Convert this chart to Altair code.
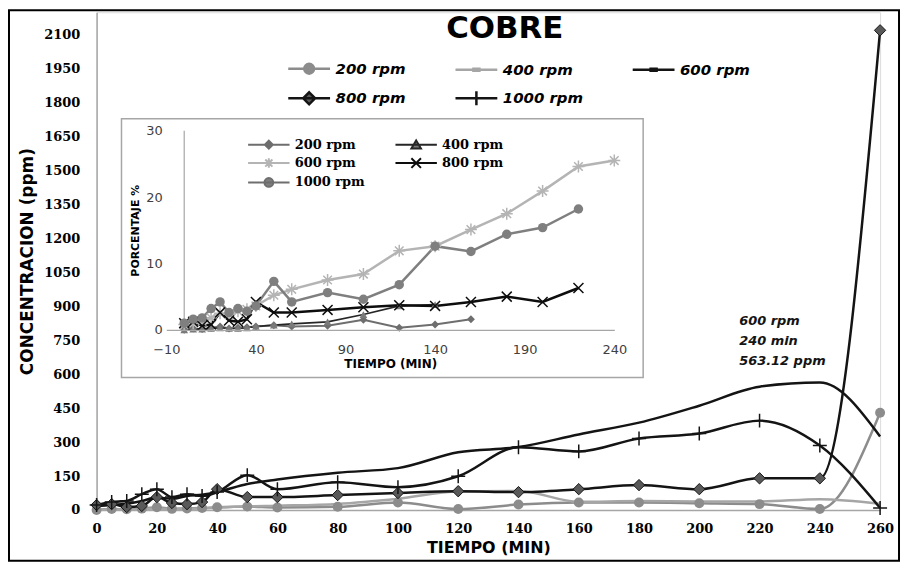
import altair as alt
import pandas as pd

# ---------------- data ----------------
tiempo = [0, 5, 10, 15, 20, 25, 30, 35, 40, 50, 60, 80, 100, 120, 140, 160, 180, 200, 220, 240, 260]
series = ["200 rpm", "400 rpm", "600 rpm", "800 rpm", "1000 rpm"]

# main chart: concentration (ppm)
ppm_200 = [0, 4, 3, 6, 12, 5, 7, 9, 12, 15, 11, 14, 33, 4, 24, 33, 33, 30, 26, 4, 430]
ppm_400 = [0, 2, 2, 4, 7, 4, 5, 7, 10, 16, 19, 27, 50, 82, 84, 36, 40, 38, 38, 48, 28]
ppm_600 = [18, 22, 28, 40, 55, 50, 62, 68, 80, 115, 135, 165, 185, 255, 278, 334, 386, 461, 545, 563.12, 325]
ppm_800 = [22, 26, 13, 18, 57, 31, 26, 35, 92, 57, 57, 66, 75, 83, 79, 92, 110, 92, 140, 140, 2120]
ppm_1000 = [22, 35, 40, 70, 92, 57, 70, 62, 79, 154, 92, 123, 101, 149, 277, 259, 316, 338, 395, 285, 9]

# inset: percentage
pct_200 = [0, 0.2, 0.1, 0.3, 0.5, 0.2, 0.3, 0.4, 0.5, 0.7, 0.5, 0.6, 1.5, 0.3, 0.8, 1.6]
pct_400 = [0, 0.1, 0.1, 0.2, 0.3, 0.2, 0.2, 0.3, 0.5, 0.7, 0.9, 1.2, 2.3, 3.6, 3.8]
pct_600 = [0.8, 1.0, 1.3, 1.8, 2.5, 2.3, 2.8, 3.1, 3.6, 5.2, 6.1, 7.5, 8.4, 11.9, 12.6, 15.1, 17.5, 20.9, 24.6, 25.5]
pct_800 = [1.0, 1.2, 0.6, 0.8, 2.6, 1.4, 1.2, 1.6, 4.2, 2.6, 2.6, 3.0, 3.4, 3.7, 3.6, 4.2, 5.0, 4.2, 6.3]
pct_1000 = [1.0, 1.6, 1.8, 3.2, 4.2, 2.6, 3.2, 2.8, 3.6, 7.3, 4.2, 5.6, 4.6, 6.8, 12.6, 11.8, 14.4, 15.4, 18.2]

annot_t = [240]
annot_v = [563.12]
annot_txt = ["600 rpm\n240 min\n563.12 ppm"]

main_ticks_x = list(range(0, 261, 20))
main_ticks_y = list(range(0, 2101, 150))
inset_ticks_x = [-10, 40, 90, 140, 190, 240]
inset_ticks_y = [0, 10, 20, 30]

SANS = "DejaVu Sans"
SERIF = "DejaVu Serif"


def to_long(values, name):
    rows = []
    for s, vals in zip(series, values):
        for t, v in zip(tiempo, vals):
            rows.append({"serie": s, "t": t, name: v})
    return pd.DataFrame(rows)


main_df = to_long([ppm_200, ppm_400, ppm_600, ppm_800, ppm_1000], "ppm")
inset_df = to_long([pct_200, pct_400, pct_600, pct_800, pct_1000], "pct")
ann_df = pd.DataFrame({"t": annot_t, "ppm": annot_v, "txt": annot_txt})
one_df = pd.DataFrame({"k": [0]})

# ---------------- main chart ----------------
x_main = alt.X(
    "t:Q",
    scale=alt.Scale(domain=[0, 260], nice=False, zero=False),
    axis=alt.Axis(values=main_ticks_x, format="d", title="TIEMPO (MIN)", grid=False, ticks=False,
                  domainColor="#a6a6a6", domainWidth=1.5, labelFont=SERIF, labelFontWeight="bold",
                  labelFontSize=13, labelColor="#000", labelPadding=13, labelOverlap=False,
                  labelFlush=False,
                  titleFont=SANS, titleFontSize=16, titleFontWeight="bold", titleColor="#000",
                  titlePadding=4),
)
y_main = alt.Y(
    "ppm:Q",
    scale=alt.Scale(domain=[0, 2200], nice=False),
    axis=alt.Axis(values=main_ticks_y, format="d", title="CONCENTRACION (ppm)", grid=False,
                  ticks=False, domainColor="#a6a6a6", domainWidth=1.5, labelFont=SERIF,
                  labelFontWeight="bold", labelFontSize=13, labelColor="#000", labelPadding=17,
                  labelOverlap=False, labelFlush=False,
                  titleFont=SANS, titleFontSize=17, titleFontWeight="bold", titleColor="#000",
                  titlePadding=7),
)

main_line_colors = {"200 rpm": "#8c8c8c", "400 rpm": "#a6a6a6", "600 rpm": "#141414",
                    "800 rpm": "#141414", "1000 rpm": "#141414"}

base_main = alt.Chart(main_df)
main_lines = [
    base_main.transform_filter(alt.datum.serie == s)
    .mark_line(interpolate="monotone", color=main_line_colors[s], strokeWidth=2.5)
    .encode(x=x_main, y=y_main)
    for s in series
]

main_markers = [
    base_main.transform_filter(alt.datum.serie == "200 rpm")
    .mark_point(shape="circle", filled=True, size=100, color="#8c8c8c", opacity=1)
    .encode(x=x_main, y=y_main),
    base_main.transform_filter(alt.datum.serie == "800 rpm")
    .mark_point(shape="diamond", filled=True, size=130, fill="#595959", stroke="#141414",
                strokeWidth=1, opacity=1)
    .encode(x=x_main, y=y_main),
    base_main.transform_filter(alt.datum.serie == "1000 rpm")
    .mark_point(shape="M-1,0L1,0M0,-1L0,1", filled=False, size=196, color="#141414",
                strokeWidth=1.5, opacity=1)
    .encode(x=x_main, y=y_main),
]

annotation = alt.Chart(ann_df).mark_text(
    align="left", baseline="top", dx=-81, dy=-68, lineBreak="\n", lineHeight=20,
    font=SANS, fontSize=13, fontStyle="italic", fontWeight="bold", color="#141414"
).encode(x=x_main, y=y_main, text="txt:N")

border = alt.Chart(one_df).mark_rect(fill="transparent", stroke="#000", strokeWidth=2).encode(
    x=alt.value(-88), x2=alt.value(806), y=alt.value(-2), y2=alt.value(551))

title_text = alt.Chart(one_df).mark_text(
    text="COBRE", font=SANS, fontSize=31, fontWeight="bold", color="#000"
).encode(x=alt.value(410), y=alt.value(17))

main_paths = [
    "M-1.4,0L1.4,0M0.33,0A0.33,0.33,0,1,1,-0.33,0A0.33,0.33,0,1,1,0.33,0Z",
    "M-1.4,0L1.4,0M-0.2,-0.07L0.2,-0.07L0.2,0.07L-0.2,0.07Z",
    "M-1.4,0L1.4,0M-0.2,-0.07L0.2,-0.07L0.2,0.07L-0.2,0.07Z",
    "M-1.4,0L1.4,0M0,-0.4L0.4,0L0,0.4L-0.4,0Z",
    "M-1.4,0L1.4,0M0,-0.47L0,0.47",
]
main_fills = ["#8c8c8c", "#a6a6a6", "#141414", "#595959", "#141414"]
main_strokes = ["#8c8c8c", "#a6a6a6", "#141414", "#141414", "#141414"]

main_leg = alt.Legend(
    title=None, orient="none", direction="horizontal", legendX=197, legendY=40, columns=3,
    columnPadding=44, rowPadding=3, symbolSize=900, symbolStrokeWidth=2.5, labelFont=SANS,
    labelFontSize=15, labelFontStyle="italic", labelFontWeight="bold", labelColor="#000",
    labelOffset=10, zindex=1)

legend_main = alt.Chart(pd.DataFrame({"serie_m": series})).mark_point(
    filled=True, opacity=1, strokeWidth=2.5
).encode(
    x=alt.value(-3000), y=alt.value(-3000),
    shape=alt.Shape("serie_m:N", scale=alt.Scale(domain=series, range=main_paths), legend=main_leg),
    fill=alt.Fill("serie_m:N", scale=alt.Scale(domain=series, range=main_fills), legend=main_leg),
    stroke=alt.Stroke("serie_m:N", scale=alt.Scale(domain=series, range=main_strokes), legend=main_leg),
)

main_layer = alt.layer(border, *main_lines, *main_markers, annotation, title_text, legend_main)

# ---------------- inset ----------------
x_inset = alt.X(
    "t:Q",
    scale=alt.Scale(domain=[-10, 240], range=[70, 520], nice=False, zero=False),
    axis=alt.Axis(orient="bottom", offset=-181, values=inset_ticks_x, grid=False, ticks=False,
                  domainColor="#a6a6a6", domainWidth=1.2, labelFont=SANS, labelFontSize=13,
                  labelColor="#404040", labelPadding=14, labelFlush=False, labelOverlap=False,
                  title="TIEMPO (MIN)", titleFont=SANS, titleFontSize=12, titleFontWeight="bold",
                  titleColor="#000", titlePadding=2, zindex=1),
)
y_inset = alt.Y(
    "pct:Q",
    scale=alt.Scale(domain=[0, 30], range=[319, 119], nice=False),
    axis=alt.Axis(orient="left", offset=-70, values=inset_ticks_y, grid=False, ticks=False,
                  domain=False, labelFont=SANS, labelFontSize=13, labelColor="#404040",
                  labelPadding=4, labelFlush=False, title="PORCENTAJE %", titleFont=SANS,
                  titleFontSize=11, titleFontWeight="bold", titleColor="#000", titlePadding=5,
                  zindex=1),
)

inset_box = alt.Chart(one_df).mark_rect(fill="#ffffff", stroke="#a6a6a6", strokeWidth=1.5).encode(
    x=alt.value(25), x2=alt.value(549), y=alt.value(107), y2=alt.value(367))

inset_rule = alt.Chart(pd.DataFrame({"t": [0], "pct": [0], "pct2": [30]})).mark_rule(
    color="#a6a6a6", strokeWidth=1.2).encode(x=x_inset, y=y_inset, y2="pct2:Q")

inset_line_style = {
    "200 rpm": ("#6e6e6e", 2),
    "400 rpm": ("#262626", 1.6),
    "600 rpm": ("#b4b4b4", 2.5),
    "800 rpm": ("#0d0d0d", 2.5),
    "1000 rpm": ("#7f7f7f", 2.5),
}
base_inset = alt.Chart(inset_df)
inset_lines = [
    base_inset.transform_filter(alt.datum.serie == s)
    .mark_line(color=inset_line_style[s][0], strokeWidth=inset_line_style[s][1])
    .encode(x=x_inset, y=y_inset)
    for s in series
]
inset_markers = [
    base_inset.transform_filter(alt.datum.serie == "200 rpm")
    .mark_point(shape="diamond", filled=True, size=64, color="#6e6e6e", opacity=1)
    .encode(x=x_inset, y=y_inset),
    base_inset.transform_filter(alt.datum.serie == "400 rpm")
    .mark_point(shape="triangle-up", filled=True, size=60, color="#7a7a7a", opacity=1)
    .encode(x=x_inset, y=y_inset),
    base_inset.transform_filter(alt.datum.serie == "600 rpm")
    .mark_point(shape="M-1,0L1,0M0,-1L0,1M-0.72,-0.72L0.72,0.72M-0.72,0.72L0.72,-0.72",
                filled=False, size=144, color="#b4b4b4", strokeWidth=1.5, opacity=1)
    .encode(x=x_inset, y=y_inset),
    base_inset.transform_filter(alt.datum.serie == "800 rpm")
    .mark_point(shape="M-1,-1L1,1M-1,1L1,-1", filled=False, size=100, color="#0d0d0d",
                strokeWidth=1.5, opacity=1)
    .encode(x=x_inset, y=y_inset),
    base_inset.transform_filter(alt.datum.serie == "1000 rpm")
    .mark_point(shape="circle", filled=True, size=90, color="#7f7f7f", opacity=1)
    .encode(x=x_inset, y=y_inset),
]

inset_paths = [
    "M-2.6,0L2.6,0M0,-0.5L0.5,0L0,0.5L-0.5,0Z",
    "M-2.6,0L2.6,0M0,-0.55L0.6,0.45L-0.6,0.45Z",
    "M-2.6,0L2.6,0M-0.6,0L0.6,0M0,-0.6L0,0.6M-0.45,-0.45L0.45,0.45M-0.45,0.45L0.45,-0.45",
    "M-2.6,0L2.6,0M-0.6,-0.6L0.6,0.6M-0.6,0.6L0.6,-0.6",
    "M-2.6,0L2.6,0M0.55,0A0.55,0.55,0,1,1,-0.55,0A0.55,0.55,0,1,1,0.55,0Z",
]
inset_fills = ["#6e6e6e", "#7a7a7a", "#b4b4b4", "#0d0d0d", "#7f7f7f"]
inset_strokes = ["#6e6e6e", "#262626", "#b4b4b4", "#0d0d0d", "#6e6e6e"]

inset_leg = alt.Legend(
    title=None, orient="none", direction="horizontal", legendX=164, legendY=124, columns=2,
    columnPadding=26, rowPadding=1.5, symbolSize=256, symbolStrokeWidth=2, labelFont=SERIF,
    labelFontSize=13, labelFontWeight="bold", labelColor="#000", labelOffset=17, zindex=1)

legend_inset = alt.Chart(pd.DataFrame({"serie_i": series})).mark_point(
    filled=True, opacity=1, strokeWidth=2
).encode(
    x=alt.value(-3000), y=alt.value(-3000),
    shape=alt.Shape("serie_i:N", scale=alt.Scale(domain=series, range=inset_paths), legend=inset_leg),
    fill=alt.Fill("serie_i:N", scale=alt.Scale(domain=series, range=inset_fills), legend=inset_leg),
    stroke=alt.Stroke("serie_i:N", scale=alt.Scale(domain=series, range=inset_strokes), legend=inset_leg),
)

inset_layer = alt.layer(inset_box, inset_rule, *inset_lines, *inset_markers, legend_inset)

chart = (
    alt.layer(main_layer, inset_layer)
    .resolve_scale(x="independent", y="independent", fill="independent",
                   stroke="independent", shape="independent")
    .properties(width=787, height=500,
                padding={"left": 89, "top": 3, "right": 21, "bottom": 54},
                autosize=alt.AutoSizeParams(type="none"))
    .configure_view(stroke=None)
    .configure(background="white")
)

chart.save("out.html", embed_options={"renderer": "svg", "actions": False})
